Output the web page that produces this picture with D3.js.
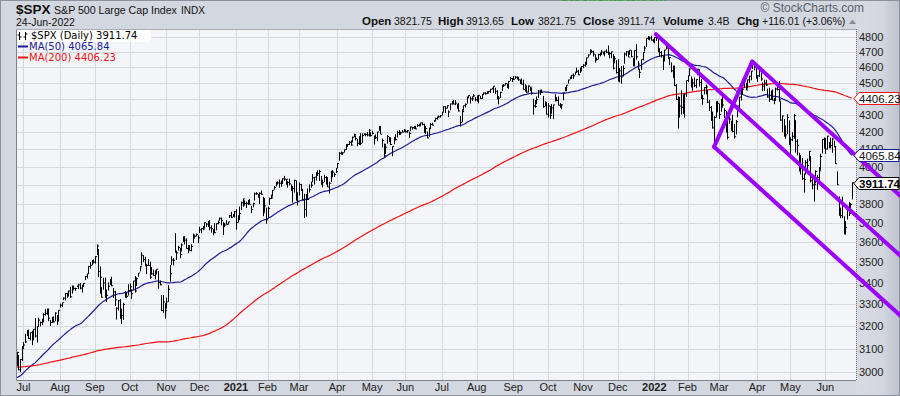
<!DOCTYPE html>
<html><head><meta charset="utf-8">
<script src="https://cdn.jsdelivr.net/npm/d3@7"></script>
<style>
body{margin:0;background:#d3d7e0;}
svg{display:block;}
</style>
</head><body>
<svg id="c" width="900" height="396"></svg>
<script>
// ---------------- DATA ----------------
const holidays = ["2020-07-03","2020-09-07","2020-11-26","2020-12-25","2021-01-01","2021-01-18","2021-02-15","2021-04-02","2021-05-31","2021-07-05","2021-09-06","2021-11-25","2021-12-24","2022-01-17","2022-02-21","2022-04-15","2022-05-30","2022-06-20"];
const firstDay = "2020-06-25", lastDay = "2022-06-24";

// closes before the visible range (Sep 11 2019 .. Jun 24 2020), used only for the moving averages
const preCloses = [
3001,3010,3007,2998,3006,3007,3007,2992,2992,2967,2985,2978,2962,2977,
2940,2888,2911,2952,2939,2893,2919,2938,2970,2966,2996,2990,2998,2986,3007,2996,3005,3010,3023,3039,3037,3047,3038,
3067,3078,3075,3077,3085,3093,3087,3092,3094,3097,3120,3122,3120,3108,3104,3110,3134,3141,3154,3141,
3114,3093,3113,3117,3146,3136,3133,3142,3169,3169,3191,3193,3191,3205,3221,3224,3223,3240,3240,3221,3231,
3258,3235,3246,3237,3253,3275,3265,3288,3283,3289,3317,3330,3321,3322,3326,3295,3244,3276,3273,3284,3226,
3249,3298,3335,3346,3328,3352,3358,3379,3374,3380,3370,3386,3373,3338,3226,3128,3116,2979,2954,
3090,3003,3130,3024,2972,2747,2882,2741,2481,2711,2386,2529,2398,2409,2305,2237,2447,2476,2630,2541,2627,2585,
2471,2527,2489,2664,2659,2750,2790,2762,2846,2783,2800,2875,2823,2737,2799,2798,2837,2878,2863,2940,2912,
2831,2843,2868,2848,2881,2930,2930,2870,2820,2853,2864,2954,2923,2972,2949,2955,2992,3036,3030,3044,
3056,3081,3123,3112,3194,3232,3207,3190,3002,3041,3067,3125,3113,3115,3098,3118,3131,3050];

const closes = [
3083.76,3009.05,3053.24,3100.29,
3115.86,3130.01,3179.72,3145.32,3169.94,3152.05,3185.04,3155.22,3197.52,3226.56,3215.57,3224.73,3251.84,3257.30,3276.02,3235.66,3215.63,3239.41,3218.44,3258.44,3246.22,3271.12,
3294.61,3306.51,3327.77,3349.16,3351.28,3360.47,3333.69,3380.35,3373.43,3372.85,3381.99,3389.78,3374.85,3385.51,3397.16,3431.28,3443.62,3478.73,3484.55,3508.01,3500.31,
3526.65,3580.84,3455.06,3426.96,3331.84,3398.96,3339.19,3340.97,3383.54,3401.20,3385.49,3357.01,3319.47,3281.06,3315.57,3236.92,3246.59,3298.46,3351.60,3335.47,3363.00,
3380.80,3348.44,3408.63,3360.95,3419.44,3446.83,3477.14,3534.22,3511.93,3488.67,3483.34,3483.81,3426.92,3443.12,3435.56,3453.49,3465.39,3400.97,3390.68,3271.03,3310.11,3269.96,
3310.24,3369.16,3443.44,3510.45,3509.44,3550.50,3545.53,3572.66,3537.01,3585.15,3626.91,3609.53,3567.79,3581.87,3557.54,3577.59,3635.41,3629.65,3638.35,3621.63,
3662.45,3669.01,3666.72,3699.12,3691.96,3702.25,3672.82,3668.10,3663.46,3647.49,3694.62,3701.17,3722.48,3709.41,3694.92,3687.26,3690.01,3703.06,3735.36,3727.04,3732.04,3756.07,
3700.65,3726.86,3748.14,3803.79,3824.68,3799.61,3801.19,3809.84,3795.54,3768.25,3798.91,3851.85,3853.07,3841.47,3855.36,3849.62,3750.77,3787.38,3714.24,
3773.86,3826.31,3830.17,3871.74,3886.83,3915.59,3911.23,3909.88,3916.38,3934.83,3932.59,3931.33,3913.97,3906.71,3876.50,3881.37,3925.43,3829.34,3811.15,
3901.82,3870.29,3819.72,3768.47,3841.94,3821.35,3875.44,3898.81,3939.34,3943.34,3968.94,3962.71,3974.12,3915.46,3913.10,3940.59,3910.52,3889.14,3909.52,3974.54,3971.09,3958.55,3972.89,
4019.87,4077.91,4073.94,4079.95,4097.17,4128.80,4127.99,4141.59,4124.66,4170.42,4185.47,4163.26,4134.94,4173.42,4134.98,4180.17,4187.62,4186.72,4183.18,4211.47,4181.17,
4192.66,4164.66,4167.59,4201.62,4232.60,4188.43,4152.10,4063.04,4112.50,4173.85,4163.29,4127.83,4115.68,4159.12,4155.86,4197.05,4188.13,4195.99,4200.88,4204.11,
4202.04,4208.12,4192.85,4229.89,4226.52,4227.26,4219.55,4239.18,4247.44,4255.15,4246.59,4223.70,4221.86,4166.45,4224.79,4246.44,4241.84,4266.49,4280.70,4290.61,4291.80,4297.50,
4319.94,4352.34,4343.54,4358.13,4320.82,4369.55,4384.63,4369.21,4374.30,4360.03,4327.16,4258.49,4323.06,4358.69,4367.48,4411.79,4422.30,4401.46,4400.64,4419.15,4395.26,
4387.16,4423.15,4402.66,4429.10,4436.52,4432.35,4436.75,4447.70,4460.83,4468.00,4479.71,4448.08,4400.27,4405.80,4441.67,4479.53,4486.23,4496.19,4470.00,4509.37,4528.79,4522.68,
4524.09,4536.95,4535.43,4520.03,4514.07,4493.28,4458.58,4468.73,4443.05,4480.70,4473.75,4432.99,4357.73,4354.19,4395.64,4448.98,4455.48,4443.11,4352.63,4359.46,4307.54,
4357.04,4300.46,4345.72,4363.55,4399.76,4391.34,4361.19,4350.65,4363.80,4438.26,4471.37,4486.46,4519.63,4536.19,4549.78,4544.90,4566.48,4574.79,4551.68,4596.42,4605.38,
4613.67,4630.65,4660.57,4680.06,4697.53,4701.70,4685.25,4646.71,4649.27,4682.85,4682.80,4700.90,4688.67,4704.54,4697.96,4682.94,4690.70,4701.46,4594.62,4655.27,4567.00,
4513.04,4577.10,4538.43,4591.67,4686.75,4701.21,4667.45,4712.02,4668.97,4634.09,4709.85,4668.67,4620.64,4568.02,4649.23,4696.56,4725.79,4791.19,4786.35,4793.06,4778.73,4766.18,
4796.56,4793.54,4700.58,4696.05,4677.03,4670.29,4713.07,4726.35,4659.03,4662.85,4577.11,4532.76,4482.73,4397.94,4410.13,4356.45,4349.93,4326.51,4431.85,4515.55,
4546.54,4589.38,4477.44,4500.53,4483.87,4521.54,4587.18,4504.08,4418.64,4401.67,4471.07,4475.01,4380.26,4348.87,4304.76,4225.50,4288.70,4384.65,4373.94,
4306.26,4386.54,4363.49,4328.87,4201.09,4170.70,4277.88,4259.52,4204.31,4173.11,4262.45,4357.86,4411.67,4463.12,4461.18,4511.61,4456.24,4520.16,4543.06,4575.52,4631.60,4602.45,4530.41,
4545.86,4582.64,4525.12,4481.15,4500.21,4488.28,4412.53,4397.45,4446.59,4392.59,4391.69,4462.21,4459.45,4393.66,4271.78,4296.12,4175.20,4183.96,4287.50,4131.93,
4155.38,4175.48,4300.17,4146.87,4123.34,3991.24,4001.05,3935.18,3930.08,4023.89,4008.01,4088.85,3923.68,3900.79,3901.36,3973.75,3941.48,3978.73,4057.84,4158.24,4132.15,
4101.23,4176.82,4108.54,4121.43,4160.68,4115.77,4017.82,3900.86,3749.63,3735.48,3789.99,3666.77,3674.84,3764.79,3759.89,3795.73,3911.74];

const highs = [
3086,3073,3054,3111,
3128,3165,3182,3184,3171,3179,3186,3235,3200,3238,3220,3233,3258,3277,3279,3279,3227,3241,3243,3262,3250,3272,
3302,3307,3331,3351,3352,3363,3381,3387,3387,3376,3387,3395,3399,3391,3399,3432,3444,3481,3501,3509,3514,
3529,3588,3564,3479,3379,3424,3425,3368,3402,3419,3429,3375,3362,3285,3320,3323,3279,3306,3361,3357,3393,
3397,3369,3409,3432,3426,3447,3482,3549,3534,3527,3489,3515,3502,3476,3464,3460,3466,3457,3411,3342,3342,3304,
3330,3389,3486,3529,3521,3645,3557,3581,3570,3593,3628,3624,3619,3585,3581,3589,3643,3635,3644,3634,
3678,3670,3682,3700,3697,3708,3712,3685,3665,3697,3695,3711,3725,3726,3702,3698,3712,3703,3740,3756,3744,3760,
3770,3738,3784,3811,3826,3817,3810,3820,3823,3788,3804,3859,3861,3852,3860,3870,3836,3830,3778,
3784,3831,3848,3872,3895,3916,3918,3931,3925,3937,3950,3933,3921,3935,3903,3895,3929,3925,3861,
3914,3906,3879,3852,3851,3881,3903,3918,3960,3944,3970,3981,3984,3949,3930,3956,3949,3943,3919,3979,3981,3968,3994,
4021,4084,4087,4083,4099,4129,4131,4148,4152,4174,4191,4181,4160,4175,4194,4194,4194,4193,4201,4219,4199,
4209,4180,4187,4202,4238,4236,4162,4134,4132,4183,4171,4170,4117,4172,4188,4209,4213,4203,4213,4219,
4216,4213,4204,4233,4232,4237,4238,4249,4248,4256,4258,4251,4236,4204,4226,4255,4256,4272,4286,4293,4300,4302,
4321,4355,4356,4361,4330,4372,4386,4393,4393,4370,4376,4296,4337,4359,4373,4415,4422,4416,4416,4430,4412,
4422,4424,4418,4430,4441,4442,4449,4449,4462,4468,4480,4470,4454,4418,4444,4489,4493,4501,4496,4513,4537,4532,
4545,4545,4542,4536,4522,4529,4521,4492,4485,4486,4477,4468,4402,4394,4416,4457,4457,4457,4419,4386,4382,
4375,4356,4369,4365,4429,4412,4416,4375,4368,4439,4475,4487,4520,4540,4551,4560,4572,4598,4584,4598,4608,
4620,4636,4664,4684,4718,4715,4708,4685,4663,4688,4698,4714,4702,4705,4718,4744,4701,4702,4687,4673,4646,
4652,4595,4608,4612,4696,4705,4706,4713,4711,4660,4710,4752,4640,4592,4651,4698,4740,4791,4807,4804,4808,4787,
4797,4818,4797,4726,4707,4672,4714,4749,4744,4666,4632,4612,4611,4494,4417,4411,4454,4429,4432,4516,
4547,4595,4542,4528,4534,4524,4590,4588,4527,4426,4473,4490,4456,4395,4356,4323,4295,4385,4389,
4372,4401,4416,4343,4327,4276,4300,4268,4303,4247,4272,4358,4413,4465,4481,4522,4502,4521,4546,4576,4637,4627,4603,
4549,4593,4593,4503,4521,4521,4465,4471,4453,4460,4406,4471,4488,4512,4386,4299,4278,4240,4308,4270,
4170,4200,4308,4271,4158,4081,4068,4050,3964,4038,4047,4090,4062,3946,3943,3981,3955,3999,4075,4158,4169,
4166,4178,4143,4168,4164,4150,4119,3975,3838,3778,3837,3733,3707,3780,3809,3802,3914];

const lows = [
3024,3007,2999,3047,
3101,3124,3155,3142,3136,3115,3136,3149,3127,3200,3198,3205,3216,3247,3250,3222,3200,3214,3216,3222,3205,3220,
3284,3287,3318,3317,3329,3335,3329,3349,3364,3362,3379,3370,3369,3354,3380,3413,3421,3444,3468,3485,3494,
3493,3535,3427,3349,3330,3367,3329,3310,3363,3390,3384,3328,3292,3229,3270,3232,3209,3228,3329,3327,3340,
3361,3324,3367,3354,3385,3429,3455,3484,3500,3480,3441,3482,3419,3439,3433,3416,3440,3372,3388,3268,3260,3233,
3279,3310,3405,3485,3484,3547,3511,3557,3519,3552,3601,3588,3567,3544,3557,3553,3595,3618,3629,3594,
3646,3645,3660,3670,3678,3678,3660,3648,3634,3645,3660,3690,3710,3685,3636,3676,3689,3689,3723,3723,3730,3726,
3663,3700,3712,3765,3783,3789,3776,3792,3793,3749,3780,3816,3846,3831,3797,3847,3733,3756,3694,
3725,3792,3824,3837,3875,3892,3902,3885,3890,3905,3923,3901,3885,3898,3868,3805,3859,3815,3789,
3843,3868,3818,3723,3731,3819,3859,3885,3915,3903,3924,3950,3922,3901,3887,3917,3902,3889,3853,3917,3943,3944,3966,
3992,4035,4069,4068,4082,4096,4114,4125,4121,4140,4171,4152,4118,4126,4124,4138,4183,4176,4175,4174,4174,
4187,4128,4161,4147,4208,4188,4111,4057,4074,4132,4143,4125,4061,4129,4151,4169,4183,4188,4197,4203,
4197,4196,4167,4206,4215,4218,4218,4231,4234,4235,4240,4196,4188,4164,4173,4217,4240,4259,4267,4274,4287,4287,
4300,4322,4314,4342,4289,4330,4365,4368,4362,4340,4323,4233,4259,4329,4348,4372,4405,4372,4387,4411,4386,
4385,4373,4401,4400,4424,4428,4431,4438,4437,4459,4437,4432,4398,4367,4407,4450,4480,4485,4469,4465,4514,4507,
4521,4527,4522,4514,4494,4492,4457,4446,4438,4440,4448,4427,4305,4347,4368,4406,4425,4437,4346,4355,4306,
4288,4279,4311,4278,4385,4386,4361,4347,4337,4392,4448,4448,4496,4524,4526,4526,4552,4569,4551,4562,4573,
4595,4604,4616,4663,4683,4697,4670,4630,4648,4651,4672,4680,4684,4672,4692,4680,4659,4659,4586,4625,4560,
4510,4504,4495,4541,4623,4674,4667,4681,4666,4606,4607,4650,4584,4531,4584,4645,4703,4733,4781,4778,4776,4765,
4758,4774,4699,4668,4663,4582,4638,4717,4653,4614,4569,4533,4482,4396,4222,4287,4305,4309,4287,4414,
4506,4545,4471,4451,4474,4467,4549,4477,4401,4365,4429,4429,4375,4327,4267,4222,4115,4286,4318,
4279,4322,4347,4284,4199,4157,4250,4209,4199,4162,4187,4288,4339,4390,4425,4469,4455,4465,4501,4517,4589,4581,4530,
4507,4538,4514,4450,4451,4481,4409,4382,4395,4392,4368,4390,4452,4384,4268,4200,4175,4162,4188,4125,
4063,4147,4161,4082,4066,3975,3958,3928,3859,3958,3983,4034,3914,3876,3810,3909,3875,3925,3984,4077,4104,
4074,4098,4107,4109,4080,4111,4017,3900,3735,3722,3722,3639,3637,3716,3734,3744,3822];

const yTicks = [3000,3100,3200,3300,3400,3500,3600,3700,3800,3900,4000,4100,4200,4300,4400,4500,4600,4700,4800];
const monthNames = ["Jan","Feb","Mar","Apr","May","Jun","Jul","Aug","Sep","Oct","Nov","Dec"];
const maPeriods = [50, 200];
const maColors = ["#1c1c96", "#ee1111"];
// Andrews pitchfork pivots (date, price)
const pivotDates = ["2022-01-04", "2022-02-24", "2022-03-29"];
const pivotPrices = [4818.62, 4114.65, 4637.30];
const headerLabels = ["Open","High","Low","Close","Volume","Chg"];
const headerValues = ["3821.75","3913.65","3821.75","3911.74","3.4B","+116.01 (+3.06%)"];

// ---------------- BUILD ----------------
function tradingDays(start, end, hol) {
  const hs = new Set(hol), out = [];
  const e = new Date(end + "T00:00:00Z");
  for (let d = new Date(start + "T00:00:00Z"); d <= e; d.setUTCDate(d.getUTCDate() + 1)) {
    const wd = d.getUTCDay(), s = d.toISOString().slice(0, 10);
    if (wd > 0 && wd < 6 && !hs.has(s)) out.push(s);
  }
  return out;
}
let dates = tradingDays(firstDay, lastDay, holidays);
if (dates.length !== closes.length) dates = dates.slice(-closes.length);
const N = closes.length;

const bars = closes.map((c, i) => ({i, c, h: Math.max(highs[i], c), l: Math.min(lows[i], c)}));

const full = preCloses.concat(closes);
const P = preCloses.length;
const maSeries = maPeriods.map(n => closes.map((c, i) => {
  const end = P + i;
  return {i, v: d3.mean(full.slice(end - n + 1, end + 1))};
}));

const svg = d3.select("#c");
const L = 16, T = 29, R = 856, B = 380;
const font = "'Liberation Sans', Arial, sans-serif";

const x = d3.scaleLinear().domain([-0.5, 505.5]).range([L, R]);
const y = d3.scaleLog().domain([3000, 4800]).range([372, 37]);

// defs
const defs = svg.append("defs");
defs.append("clipPath").attr("id", "pc").append("rect").attr("x", L).attr("y", T).attr("width", R - L).attr("height", B - T);
const g1 = defs.append("linearGradient").attr("id", "rg").attr("x1", 0).attr("x2", 1).attr("y1", 0).attr("y2", 0);
g1.append("stop").attr("offset", "0").attr("stop-color", "#d8dbe3");
g1.append("stop").attr("offset", "0.6").attr("stop-color", "#d3d6df");
g1.append("stop").attr("offset", "1").attr("stop-color", "#bcc1cc");

// background
svg.append("rect").attr("width", 900).attr("height", 396).attr("fill", "#d3d7e0");
svg.append("rect").attr("x", R).attr("y", 0).attr("width", 900 - R).attr("height", 396).attr("fill", "url(#rg)");
svg.append("rect").attr("x", 0.5).attr("y", 0.5).attr("width", 899).attr("height", 395).attr("fill", "none").attr("stroke", "#8d939e");
svg.append("rect").attr("x", L).attr("y", T).attr("width", R - L).attr("height", B - T).attr("fill", "#f4f5f9");

// grid
const monthStarts = [];
for (let i = 1; i < N; i++) {
  if (dates[i].slice(5, 7) !== dates[i - 1].slice(5, 7)) monthStarts.push(i);
}
const grid = svg.append("g").attr("stroke", "#d6d8df").attr("stroke-width", 1);
grid.selectAll("line.h").data(yTicks).join("line")
  .attr("x1", L).attr("x2", R)
  .attr("y1", d => Math.round(y(d)) + 0.5).attr("y2", d => Math.round(y(d)) + 0.5);
grid.selectAll("line.v").data(monthStarts).join("line")
  .attr("y1", T).attr("y2", B)
  .attr("x1", d => Math.round(x(d)) + 0.5).attr("x2", d => Math.round(x(d)) + 0.5);

// legend background (first row)
svg.append("rect").attr("x", L + 1).attr("y", T + 1).attr("width", 134).attr("height", 12).attr("fill", "#ffffff");

// plot content
const pg = svg.append("g").attr("clip-path", "url(#pc)");
const line = d3.line().x(d => x(d.i)).y(d => y(d.v));
maSeries.forEach((s, k) => {
  pg.append("path").attr("d", line(s)).attr("fill", "none")
    .attr("stroke", maColors[k]).attr("stroke-width", 1.2);
});
let pth = "";
bars.forEach(b => {
  const xi = Math.round(x(b.i)) + 0.5;
  pth += `M${xi},${y(b.h).toFixed(1)}V${y(b.l).toFixed(1)}M${xi},${y(b.c).toFixed(1)}h1.6`;
});
pg.append("path").attr("d", pth).attr("stroke", "#000").attr("stroke-width", 1).attr("fill", "none");

// plot border
svg.append("path").attr("d", `M${L + 0.5},${T}V${B + 0.5}H${R}`).attr("fill", "none").attr("stroke", "#7c818b");
svg.append("line").attr("x1", L).attr("x2", R).attr("y1", T + 0.5).attr("y2", T + 0.5).attr("stroke", "#a9aeb8");
svg.append("line").attr("x1", R + 0.5).attr("x2", R + 0.5).attr("y1", T).attr("y2", B + 1)
  .attr("stroke", "#6f7580").attr("stroke-dasharray", "1,1");

// right side value tags (values)
const lastMA = maSeries.map(s => s[s.length - 1].v);
const tags = [
  {v: lastMA[1], text: "4406.23", color: "#ee1111", bold: false},
  {v: lastMA[0], text: "4065.84", color: "#1c1c96", bold: false},
  {v: closes[N - 1], text: "3911.74", color: "#000", bold: true}
];

// y axis labels (those hidden beneath a value tag are not drawn)
const visibleTicks = yTicks.filter(t => tags.every(g => Math.abs(y(t) - y(g.v)) > 4));
svg.append("g").selectAll("text").data(visibleTicks).join("text")
  .attr("x", R + 3).attr("y", d => y(d) + 4)
  .attr("font-family", font).attr("font-size", 11).attr("fill", "#222")
  .text(d => d);

// x axis labels
svg.append("g").selectAll("text").data(monthStarts).join("text")
  .attr("x", d => x(d)).attr("y", 391).attr("text-anchor", "middle")
  .attr("font-family", font).attr("font-size", 11)
  .attr("font-weight", d => dates[d].slice(5, 7) === "01" ? "bold" : "normal")
  .attr("fill", "#222")
  .text(d => {
    const m = +dates[d].slice(5, 7) - 1;
    return m === 0 ? dates[d].slice(0, 4) : monthNames[m];
  });

// pitchfork
const piv = pivotDates.map((d, k) => ({px: x(dates.indexOf(d)), py: y(pivotPrices[k])}));
const mid = {px: (piv[1].px + piv[2].px) / 2, py: (piv[1].py + piv[2].py) / 2};
const dx = mid.px - piv[0].px, dy = mid.py - piv[0].py;
const ext = p => { const t = (910 - p.px) / dx; return [p.px + dx * t, p.py + dy * t]; };
const fork = svg.append("g").attr("stroke", "#9b00ff").attr("stroke-width", 4).attr("fill", "none").attr("stroke-linecap", "round");
piv.forEach(p => {
  const e = ext(p);
  fork.append("line").attr("x1", p.px).attr("y1", p.py).attr("x2", e[0]).attr("y2", e[1]);
});
fork.append("line").attr("x1", piv[1].px).attr("y1", piv[1].py).attr("x2", piv[2].px).attr("y2", piv[2].py);

// tags drawn over the axis
tags.forEach(t => {
  const yc = Math.round(y(t.v)) + 0.5;
  svg.append("path")
    .attr("d", `M${R - 2},${yc}L${R + 3},${yc - 6}H899V${yc + 6}H${R + 3}Z`)
    .attr("fill", "#fff").attr("stroke", t.color).attr("stroke-width", 1);
  svg.append("text").attr("x", R + 3).attr("y", yc + 4)
    .attr("font-family", font).attr("font-size", 11.5)
    .attr("font-weight", t.bold ? "bold" : "normal")
    .attr("fill", t.bold ? "#000" : "#111").text(t.text);
});

// legend
const lg = svg.append("g").attr("font-family", "'DejaVu Sans', Verdana, sans-serif").attr("font-size", 10);
lg.append("path").attr("d", "M19.5,32V40M17.5,35H19.5M19.5,37H21.5M25.5,32V40M23.5,37H25.5M25.5,34H27.5")
  .attr("stroke", "#000").attr("fill", "none");
lg.append("text").attr("x", 31).attr("y", 39).attr("fill", "#000").text("$SPX (Daily) " + closes[N - 1].toFixed(2));
const legendRows = [{name: "MA(50)", idx: 0}, {name: "MA(200)", idx: 1}];
legendRows.forEach((r, k) => {
  const by = 50 + k * 11;
  lg.append("line").attr("x1", 18).attr("x2", 28).attr("y1", by - 3.5).attr("y2", by - 3.5)
    .attr("stroke", maColors[r.idx]).attr("stroke-width", 2);
  lg.append("text").attr("x", 29).attr("y", by).attr("fill", maColors[r.idx])
    .text(r.name + " " + lastMA[r.idx].toFixed(2));
});

// header
svg.append("text").attr("x", 16).attr("y", 13.5).attr("font-family", font).attr("font-size", 13.5)
  .attr("font-weight", "bold").attr("fill", "#111").text("$SPX");
svg.append("text").attr("x", 54).attr("y", 13.5).attr("font-family", font).attr("font-size", 10.6)
  .attr("fill", "#111").text("S&P 500 Large Cap Index");
svg.append("text").attr("x", 181).attr("y", 13.5).attr("font-family", font).attr("font-size", 10)
  .attr("fill", "#111").text("INDX");
svg.append("text").attr("x", 16).attr("y", 25.5).attr("font-family", font).attr("font-size", 10.5)
  .attr("fill", "#111").text("24-Jun-2022");
svg.append("text").attr("x", 864).attr("y", 12).attr("text-anchor", "end").attr("font-family", font)
  .attr("font-size", 12).attr("fill", "#56606c").text("\u00A9 StockCharts.com");
svg.append("text").attr("x", 560).attr("y", 1).attr("font-family", font).attr("font-size", 13)
  .attr("font-weight", "bold").attr("fill", "#2fa62f").text("StockCharts.com");

const headerX = [[362, 394], [438, 466], [511, 538], [583, 618], [663, 708], [737, 762]];
headerLabels.forEach((lab, k) => {
  svg.append("text").attr("x", headerX[k][0]).attr("y", 25).attr("font-family", font)
    .attr("font-size", 11.5).attr("font-weight", "bold").attr("fill", "#111").text(lab);
  svg.append("text").attr("x", headerX[k][1]).attr("y", 25).attr("font-family", font)
    .attr("font-size", 10.5).attr("fill", "#111").text(headerValues[k]);
});
svg.append("path").attr("d", "M849,24L852.5,19.5L856,24Z").attr("fill", "#8a909b");
</script>
</body></html>
